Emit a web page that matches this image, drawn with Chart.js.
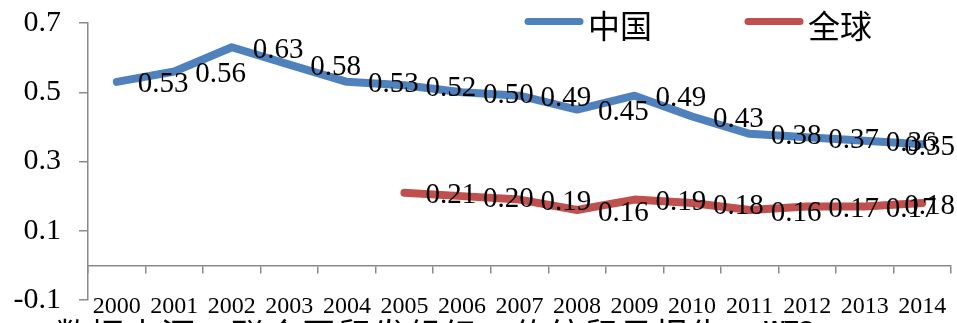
<!DOCTYPE html>
<html>
<head>
<meta charset="utf-8">
<script src="https://cdn.jsdelivr.net/npm/chart.js@4.4.1/dist/chart.umd.min.js"></script>
<style>
  html, body { margin: 0; padding: 0; background: #ffffff; }
  #wrap { width: 957px; height: 323px; overflow: hidden; }
  canvas { display: block; }
</style>
</head>
<body>
<div id="wrap"><canvas id="chart" width="957" height="323"></canvas></div>
<script>
// Categories and series
const years = ['2000', '2001', '2002', '2003', '2004', '2005', '2006', '2007',
               '2008', '2009', '2010', '2011', '2012', '2013', '2014'];
const chinaValues  = [0.53, 0.56, 0.63, 0.58, 0.53, 0.52, 0.50, 0.49, 0.45, 0.49, 0.43, 0.38, 0.37, 0.36, 0.35];
const globalValues = [null, null, null, null, null, 0.21, 0.20, 0.19, 0.16, 0.19, 0.18, 0.16, 0.17, 0.17, 0.18];
const seriesNames  = ['中国', '全球'];
const yTickValues  = [-0.1, 0.1, 0.3, 0.5, 0.7];
const sourceNote   = '数据来源：联合国贸发组织、传统贸易报告，';
const sourceTail   = 'WTO';

const SERIF = '"Liberation Serif", "Times New Roman", serif';
const CJK = '"Noto Sans CJK SC", "Noto Sans", sans-serif';
const BLUE = '#4F81BD';
const RED = '#C0504D';
const AXIS = '#8a8a8a';

// Value labels to the right of each point, kept inside the canvas
const valueLabels = {
  id: 'valueLabels',
  afterDatasetsDraw(chart) {
    const ctx = chart.ctx;
    ctx.save();
    ctx.font = '29px ' + SERIF;
    ctx.fillStyle = '#000';
    ctx.textAlign = 'left';
    ctx.textBaseline = 'middle';
    chart.data.datasets.forEach((ds, di) => {
      const meta = chart.getDatasetMeta(di);
      meta.data.forEach((pt, i) => {
        const v = ds.data[i];
        if (v === null || v === undefined) return;
        const txt = v.toFixed(2);
        const w = ctx.measureText(txt).width;
        let x = pt.x + 21;
        if (x + w > chart.width - 2) x = chart.width - 2 - w;
        ctx.fillText(txt, x, pt.y + 3);
      });
    });
    ctx.restore();
  }
};

// Legend in the upper right, plus the source line at the bottom
const legendAndNote = {
  id: 'legendAndNote',
  afterDraw(chart) {
    const ctx = chart.ctx;
    ctx.save();
    const starts = [525, 745];
    chart.data.datasets.forEach((ds, i) => {
      const x0 = starts[i];
      ctx.strokeStyle = ds.borderColor;
      ctx.lineWidth = 7;
      ctx.lineCap = 'round';
      ctx.beginPath();
      ctx.moveTo(x0 + 3, 21.5);
      ctx.lineTo(x0 + 55, 21.5);
      ctx.stroke();
      ctx.fillStyle = '#000';
      ctx.font = '32px ' + CJK;
      ctx.textAlign = 'left';
      ctx.textBaseline = 'middle';
      ctx.fillText(ds.label, x0 + 63, 26);
    });

    // source note (mostly below the visible edge)
    ctx.fillStyle = '#000';
    ctx.font = '34px ' + CJK;
    ctx.textBaseline = 'alphabetic';
    ctx.textAlign = 'left';
    const chars = Array.from(sourceNote);
    const pitch = (760 - 55) / chars.length;
    chars.forEach((ch, i) => ctx.fillText(ch, 55 + i * pitch, 348));
    ctx.font = 'bold 22px "Liberation Sans", Arial, sans-serif';
    ctx.fillText(sourceTail, 764, 336);
    ctx.restore();
  }
};

new Chart(document.getElementById('chart'), {
  type: 'line',
  data: {
    labels: years,
    datasets: [
      {
        label: seriesNames[0],
        data: chinaValues,
        borderColor: BLUE,
        backgroundColor: BLUE,
        borderWidth: 8,
        borderCapStyle: 'round',
        borderJoinStyle: 'round',
        pointRadius: 0,
        pointHoverRadius: 0,
        tension: 0,
        fill: false
      },
      {
        label: seriesNames[1],
        data: globalValues,
        borderColor: RED,
        backgroundColor: RED,
        borderWidth: 8,
        borderCapStyle: 'round',
        borderJoinStyle: 'round',
        pointRadius: 0,
        pointHoverRadius: 0,
        tension: 0,
        spanGaps: false,
        fill: false
      }
    ]
  },
  options: {
    responsive: false,
    animation: false,
    devicePixelRatio: 1,
    layout: { padding: { left: 0, right: 6, top: 23, bottom: 23 } },
    plugins: {
      legend: { display: false },
      tooltip: { enabled: false }
    },
    scales: {
      x: {
        type: 'category',
        position: { y: 0 },
        offset: true,
        afterFit(scale) { scale.paddingLeft = 0; scale.paddingRight = 0; },
        grid: {
          offset: true,
          drawOnChartArea: false,
          drawTicks: true,
          tickLength: 7,
          color: AXIS,
          lineWidth: 1.5
        },
        border: { color: AXIS, width: 1.5 },
        ticks: {
          color: '#000',
          font: { family: SERIF, size: 24 },
          padding: 20,
          maxRotation: 0,
          minRotation: 0,
          autoSkip: false
        }
      },
      y: {
        min: -0.1,
        max: 0.7,
        afterFit(scale) { scale.width = 88; scale.paddingTop = 0; scale.paddingBottom = 0; },
        afterBuildTicks(scale) { scale.ticks = yTickValues.map(v => ({ value: v })); },
        grid: {
          drawOnChartArea: false,
          drawTicks: true,
          tickLength: 9,
          color: AXIS,
          lineWidth: 1.5
        },
        border: { color: AXIS, width: 1.5 },
        ticks: {
          color: '#000',
          font: { family: SERIF, size: 30 },
          padding: 18,
          callback: v => Number(v).toFixed(1)
        }
      }
    }
  },
  plugins: [valueLabels, legendAndNote]
});
</script>
</body>
</html>
